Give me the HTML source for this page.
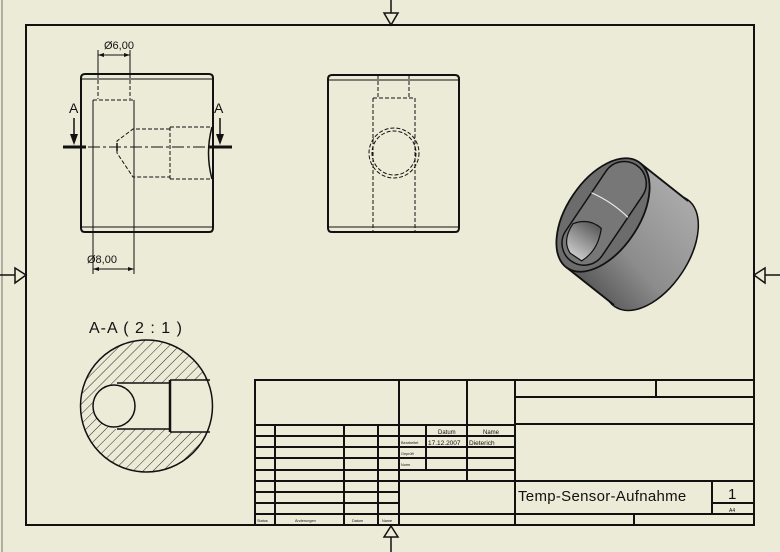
<!DOCTYPE html>
<html><head><meta charset="utf-8"><style>
html,body{margin:0;padding:0;background:#ECEBD7;}
svg{display:block;}
text{font-family:"Liberation Sans","DejaVu Sans",sans-serif;fill:#111;}
</style></head><body>
<svg width="780" height="552" viewBox="0 0 780 552" xmlns="http://www.w3.org/2000/svg">
<defs>
<pattern id="hatch" patternUnits="userSpaceOnUse" width="7" height="7" patternTransform="rotate(45)">
<line x1="0" y1="0" x2="0" y2="7" stroke="#111" stroke-width="0.9"/>
</pattern>
<clipPath id="secClip"><circle cx="146.5" cy="406" r="66"/></clipPath>
<clipPath id="bodyClip">
<ellipse cx="0" cy="0" rx="64" ry="36" transform="translate(651,253) rotate(-56)"/>
<polygon points="640,163 688,201 614,305 566,267"/>
</clipPath>
<linearGradient id="side" gradientUnits="userSpaceOnUse" x1="585" y1="285" x2="680" y2="200">
<stop offset="0" stop-color="#5a5a5a"/><stop offset="0.4" stop-color="#8c8c8c"/><stop offset="1" stop-color="#a8a8a8"/>
</linearGradient>
<linearGradient id="holeg" x1="0" y1="0" x2="1" y2="0">
<stop offset="0" stop-color="#c8c8c8"/><stop offset="1" stop-color="#5a5a5a"/>
</linearGradient>
</defs>
<rect width="780" height="552" fill="#ECEBD7"/>
<line x1="2" y1="0" x2="2" y2="552" stroke="#9a9a90" stroke-width="1.5"/>
<rect x="26" y="25" width="728" height="500" fill="none" stroke="#111" stroke-width="2"/>
<g fill="none" stroke="#111" stroke-width="1.5">
<line x1="391" y1="0" x2="391" y2="13"/><polygon points="384,13 398,13 391,25"/>
<line x1="391" y1="537" x2="391" y2="552"/><polygon points="384,537 398,537 391,526"/>
<line x1="0" y1="275" x2="15" y2="275"/><polygon points="15,268 15,283 26,275"/>
<line x1="765" y1="275" x2="780" y2="275"/><polygon points="765,268 765,283 754,275"/>
</g>

<!-- FRONT VIEW -->
<g fill="none" stroke="#111">
<path d="M85,74 H209 Q213,74 213,78 V228 Q213,232 209,232 H85 Q81,232 81,228 V78 Q81,74 85,74 Z" stroke-width="2"/>
<line x1="82" y1="79" x2="212" y2="79" stroke-width="1"/>
<line x1="82" y1="227" x2="212" y2="227" stroke-width="1"/>
<line x1="93" y1="100" x2="93" y2="274" stroke-width="1"/>
<line x1="134" y1="100" x2="134" y2="274" stroke-width="1"/>
<line x1="93" y1="100" x2="134" y2="100" stroke-width="1" stroke-dasharray="4,2"/>
<line x1="98" y1="50" x2="98" y2="74" stroke-width="1"/>
<line x1="130" y1="50" x2="130" y2="74" stroke-width="1"/>
<line x1="98" y1="74" x2="98" y2="99" stroke-width="1" stroke-dasharray="4,2"/>
<line x1="130" y1="74" x2="130" y2="99" stroke-width="1" stroke-dasharray="4,2"/>
<line x1="98" y1="55" x2="130" y2="55" stroke-width="1"/>
<line x1="93" y1="269" x2="134" y2="269" stroke-width="1"/>
<g stroke-width="1" stroke-dasharray="4,2">
<path d="M170,129 H133 L117,141 V153 L133,177 H170"/>
<path d="M170,127 H212 M170,179 H212 M170,127 V179"/>
</g>
<path d="M212,127 Q205,153 212,179" stroke-width="1.5"/>
<line x1="117" y1="143" x2="117" y2="151" stroke-width="1.5"/>
<line x1="88" y1="147" x2="206" y2="147" stroke-width="1" stroke-dasharray="12,3,3,3"/>
<line x1="63" y1="147" x2="86" y2="147" stroke-width="3"/>
<line x1="208" y1="147" x2="232" y2="147" stroke-width="3"/>
<line x1="74" y1="118" x2="74" y2="138" stroke-width="1.5"/>
<line x1="220" y1="118" x2="220" y2="138" stroke-width="1.5"/>
</g>
<g fill="#111">
<polygon points="70,134 78,134 74,145"/><polygon points="216,134 224,134 220,145"/>
<polygon points="98,55 104,53 104,57"/><polygon points="130,55 124,53 124,57"/>
<polygon points="93,269 99,267 99,271"/><polygon points="134,269 128,267 128,271"/>
</g>
<text x="69" y="113" font-size="14">A</text>
<text x="214" y="113" font-size="14">A</text>
<text x="104" y="49" font-size="11">Ø6,00</text>
<text x="87" y="263" font-size="11">Ø8,00</text>

<!-- SIDE VIEW -->
<g fill="none" stroke="#111">
<path d="M332,75 H455 Q459,75 459,79 V228 Q459,232 455,232 H332 Q328,232 328,228 V79 Q328,75 332,75 Z" stroke-width="2"/>
<line x1="329" y1="80" x2="458" y2="80" stroke-width="1"/>
<line x1="329" y1="227" x2="458" y2="227" stroke-width="1"/>
<g stroke-width="1" stroke-dasharray="4,2">
<path d="M378,75 V98 M409,75 V98 M373,98 H415 M373,98 V232 M415,98 V232"/>
<circle cx="394" cy="153" r="25"/>
<circle cx="394" cy="153" r="22"/>
</g>
</g>

<!-- SECTION A-A -->
<text x="89" y="333" font-size="16" letter-spacing="1">A-A  ( 2 : 1 )</text>
<circle cx="146.5" cy="406" r="66" fill="url(#hatch)" clip-path="url(#secClip)"/>
<g clip-path="url(#secClip)">
<rect x="113" y="383" width="57" height="46" fill="#ECEBD7"/>
<rect x="170" y="380" width="50" height="52" fill="#ECEBD7"/>
</g>
<circle cx="114" cy="406" r="21" fill="#ECEBD7" stroke="#111" stroke-width="1.5"/>
<g fill="none" stroke="#111" stroke-width="1.5">
<path d="M117,383 H170 M117,429 H170"/>
<line x1="170" y1="380" x2="170" y2="432" stroke-width="2.5"/>
<path d="M170,380 H210 M170,432 H210"/>
<circle cx="146.5" cy="406" r="66"/>
</g>

<!-- 3D VIEW -->
<g>
<ellipse cx="0" cy="0" rx="64" ry="36" transform="translate(651,253) rotate(-56)" fill="none" stroke="#111" stroke-width="3"/>
<rect x="540" y="140" width="170" height="180" fill="url(#side)" clip-path="url(#bodyClip)"/>
<line x1="640" y1="163" x2="688" y2="201" stroke="#111" stroke-width="1.8"/>
<line x1="566" y1="267" x2="614" y2="305" stroke="#111" stroke-width="1.8"/>
<g transform="translate(603,215) rotate(-56)">
<ellipse cx="0" cy="0" rx="64" ry="36" fill="#6c6c6c" stroke="#111" stroke-width="1.8"/>
<path d="M-34,-22 H38 A22,22 0 0 1 38,22 H-34 A22,22 0 0 1 -34,-22 Z" fill="#777" stroke="#111" stroke-width="1.5"/>
<path d="M-50,-6 Q-44,-20 -24,-20 Q-10,-10 -12,6 Q-32,16 -50,8 Z" fill="url(#holeg)" stroke="#111" stroke-width="1.2"/>
<path d="M12,-22 Q16,0 12,22" fill="none" stroke="#eee" stroke-width="1.2"/>
</g>
</g>

<!-- TITLE BLOCK -->
<g fill="none" stroke="#111" stroke-width="2">
<rect x="255" y="380" width="499" height="145"/>
<line x1="399" y1="380" x2="399" y2="525"/>
<line x1="467" y1="380" x2="467" y2="481"/>
<line x1="515" y1="380" x2="515" y2="525"/>
<line x1="255" y1="425" x2="515" y2="425"/>
<line x1="255" y1="436" x2="515" y2="436"/>
<line x1="255" y1="447" x2="515" y2="447"/>
<line x1="255" y1="458" x2="515" y2="458"/>
<line x1="255" y1="470" x2="515" y2="470"/>
<line x1="255" y1="481" x2="515" y2="481"/>
<line x1="255" y1="492" x2="399" y2="492"/>
<line x1="255" y1="503" x2="399" y2="503"/>
<line x1="255" y1="514" x2="515" y2="514"/>
<line x1="275" y1="425" x2="275" y2="525"/>
<line x1="344" y1="425" x2="344" y2="525"/>
<line x1="378" y1="425" x2="378" y2="525"/>
<line x1="426" y1="425" x2="426" y2="470"/>
<line x1="656" y1="380" x2="656" y2="397"/>
<line x1="515" y1="397" x2="754" y2="397"/>
<line x1="515" y1="424" x2="754" y2="424"/>
<line x1="515" y1="481" x2="754" y2="481"/>
<line x1="712" y1="481" x2="712" y2="514"/>
<line x1="712" y1="503" x2="754" y2="503"/>
<line x1="515" y1="514" x2="754" y2="514"/>
<line x1="634" y1="514" x2="634" y2="525"/>
</g>
<g font-size="6">
<text x="438" y="434">Datum</text>
<text x="483" y="434">Name</text>
<text x="428" y="445" font-size="6.5">17.12.2007</text>
<text x="469" y="445" font-size="6.5">Dieterich</text>
</g>
<g font-size="3.8">
<text x="401" y="444">Bearbeitet</text>
<text x="401" y="455">Geprüft</text>
<text x="401" y="466">Norm</text>
<text x="257" y="522">Status</text>
<text x="295" y="522">Änderungen</text>
<text x="352" y="522">Datum</text>
<text x="382" y="522">Name</text>
</g>
<text x="518" y="501" font-size="15" letter-spacing="0.3">Temp-Sensor-Aufnahme</text>
<text x="728" y="499" font-size="15">1</text>
<text x="729" y="512" font-size="5">A4</text>
</svg>
</body></html>
